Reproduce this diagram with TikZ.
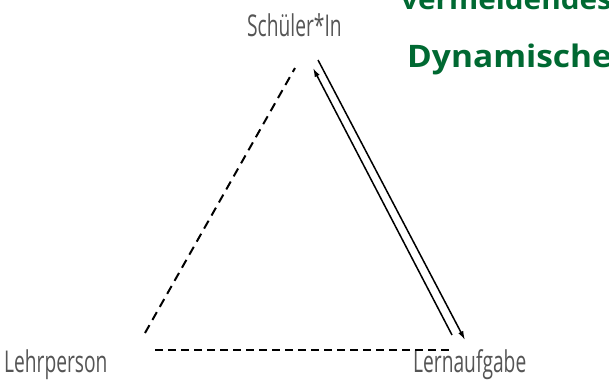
\documentclass[tikz,border=0pt]{standalone}
\usepackage{fontspec}
\usetikzlibrary{arrows.meta}
\newfontfamily\labfont[FakeStretch=0.64]{Open Sans}
\newfontfamily\headfont[FakeStretch=1.08]{Open Sans}
\definecolor{labgray}{RGB}{85,85,85}
\definecolor{headgreen}{RGB}{0,105,50}
\tikzset{
  lab/.style={font=\labfont\fontsize{30}{30}\selectfont, text=labgray, inner sep=0pt, anchor=base west},
  head/.style={font=\headfont\bfseries\fontsize{31}{31}\selectfont, text=headgreen, inner sep=0pt, anchor=base west},
  dashA/.style={line width=2pt, dash pattern=on 9pt off 6pt},
  dashB/.style={line width=2pt, dash pattern=on 8pt off 5pt},
  arr/.style={line width=1.5pt, -{Latex[length=9pt,width=5.5pt]}}
}
\begin{document}
\begin{tikzpicture}[x=1pt,y=-1pt]
\useasboundingbox (0,0) rectangle (609,381);
\clip (0,0) rectangle (609,381);
\fill[white] (0,0) rectangle (609,381);
% labels
\node[lab] (schueler) at (247,36) {Schüler*In};
\node[lab] (lehr) at (4,372) {Lehrperson};
\node[lab] (lern) at (413,372) {Lernaufgabe};
% headings (cut off at the picture's edges as in the source)
\node[head, font=\headfont\bfseries\fontsize{27.5}{27.5}\selectfont] (verm) at (401,9) {vermeidendes};
\node[head] (dyn) at (407,67) {Dynamische};
% corners
\coordinate (sL) at (295,68);
\coordinate (lT) at (145,333);
\coordinate (hL) at (155,350);
\coordinate (hR) at (453,350);
\coordinate (upS) at (452,335);
\coordinate (upE) at (313,68);
\coordinate (dnS) at (318,60);
\coordinate (dnE) at (465,340);
\draw[dashA] (lT) -- (sL);
\draw[dashB] (hL) -- (hR);
\draw[arr] (upS) -- (upE);
\draw[arr] (dnS) -- (dnE);
\end{tikzpicture}
\end{document}
